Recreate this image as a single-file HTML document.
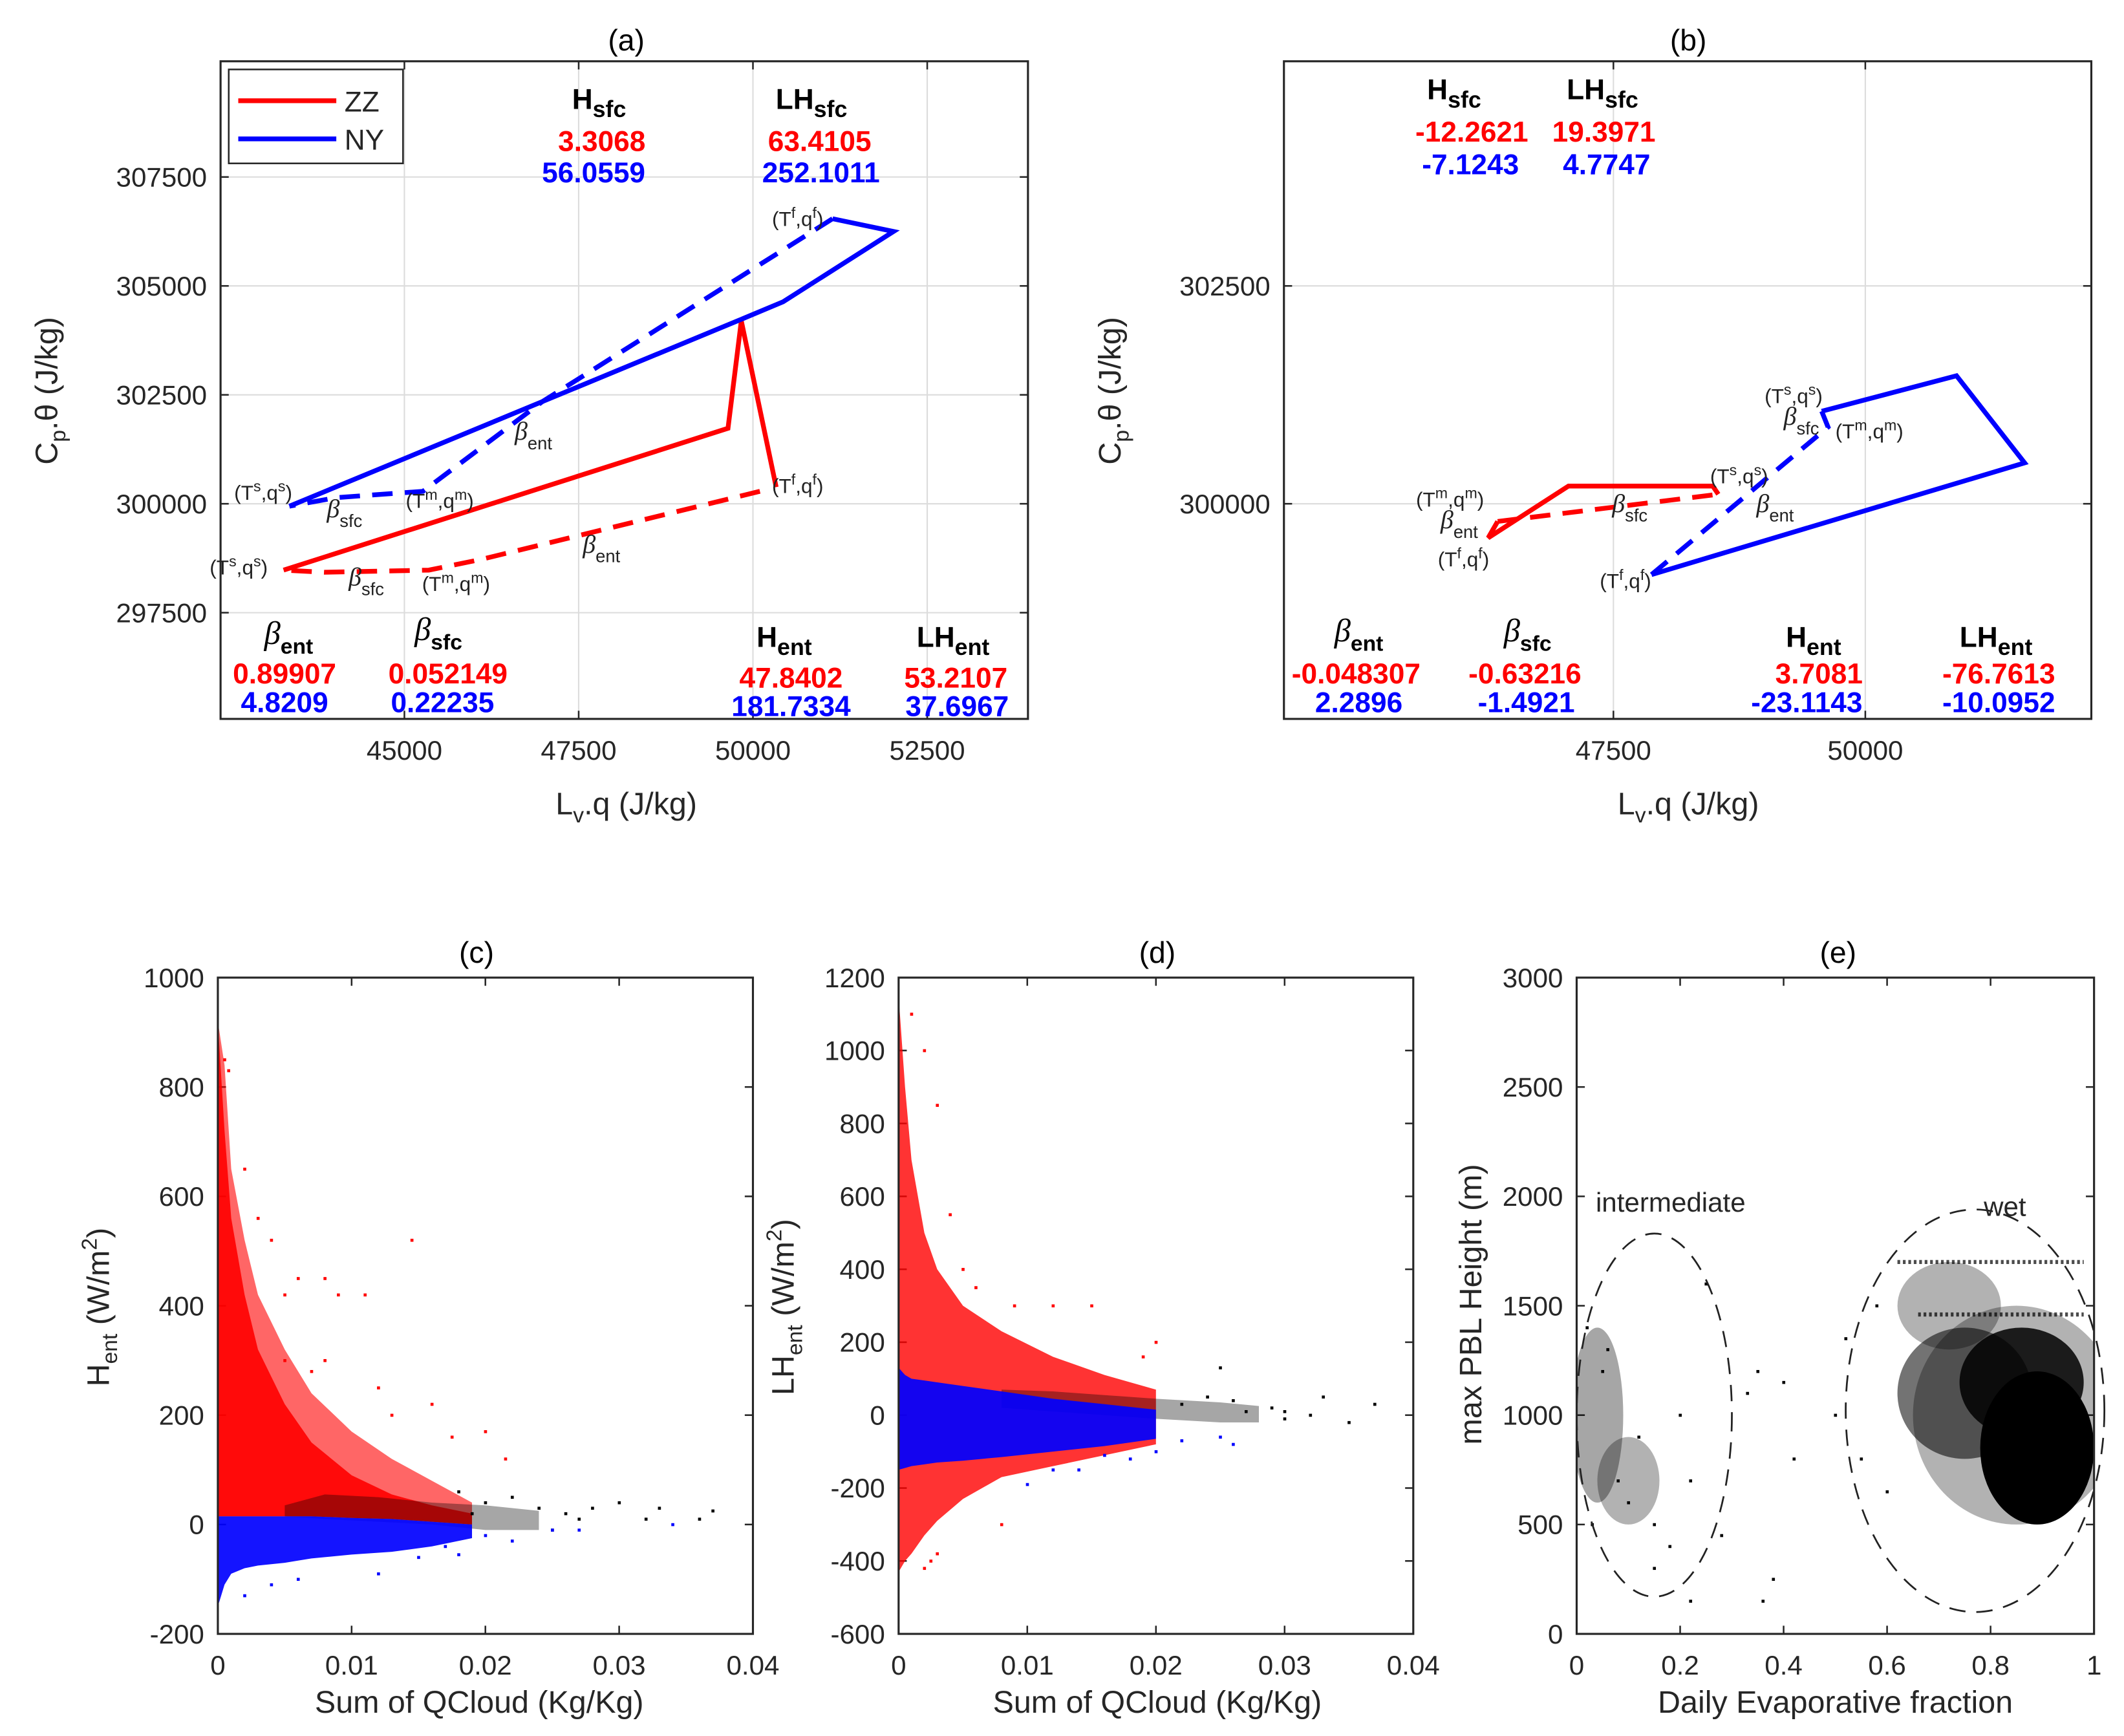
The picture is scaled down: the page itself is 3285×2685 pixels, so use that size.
<!DOCTYPE html>
<html><head><meta charset="utf-8"><style>
html,body{margin:0;padding:0;background:#fff;}
svg{display:block;}
text{font-family:"Liberation Sans",sans-serif;}
.tk{font-size:20px;fill:#262626;}
.lab{font-size:23px;fill:#262626;}
.ttl{font-size:22px;fill:#000;}
.ann{font-size:21px;font-weight:bold;}
.pl{font-size:15px;fill:#222;}
</style></head><body>
<svg id="fig" xmlns="http://www.w3.org/2000/svg" width="3285" height="2685" viewBox="0 0 1560 1275" preserveAspectRatio="none">
<rect x="0" y="0" width="1560" height="1275" fill="#fff"/>
<g id="root"></g>
</svg>
<script>
// ---------- Panel (a) data ----------
const aZZsolidX = [43267, 49642, 49833, 50333];
const aZZsolidY = [298477, 301732, 304197, 300383];
const aZZdashX = [50100, 46100, 45350, 43850, 43267];
const aZZdashY = [300286, 298722, 298477, 298428, 298477];
const aNYsolidX = [43350, 49850, 50433, 52017, 51142];
const aNYsolidY = [299944, 304245, 304636, 306249, 306542];
const aNYdashX = [51142, 46975, 45267, 44017, 43350];
const aNYdashY = [306542, 302340, 300286, 300140, 299944];
const aXTicks = [45000, 47500, 50000, 52500];
const aYTicks = [297500, 300000, 302500, 305000, 307500];
// ---------- Panel (b) data ----------
const bZZsolidX = [48541, 48486, 47054, 46257, 46351];
const bZZsolidY = [300109, 300203, 300203, 299609, 299797];
const bZZdashX = [46351, 48541];
const bZZdashY = [299797, 300109];
const bNYsolidX = [49567, 50905, 51581, 47878];
const bNYsolidY = [301062, 301469, 300469, 299187];
const bNYdashX = [47878, 49630, 49567];
const bNYdashY = [299187, 300880, 301062];
const bXTicks = [47500, 50000];
const bYTicks = [300000, 302500];
// ---------- Panel (c) data ----------
const cX = [0, 0.0005, 0.001, 0.002, 0.003, 0.005, 0.007, 0.01, 0.013, 0.016, 0.019];
const cRedCore = [920, 720, 560, 420, 320, 220, 150, 90, 55, 35, 20];
const cRedHalo = [920, 840, 650, 520, 420, 320, 240, 170, 120, 80, 40];
const cBlueTop = [15, 15, 15, 15, 15, 15, 15, 12, 10, 5, 0];
const cBlueBot = [-150, -110, -90, -80, -75, -70, -62, -55, -50, -40, -25];
const cBlackX = [0.005, 0.008, 0.012, 0.016, 0.02, 0.024];
const cBlackTop = [35, 55, 50, 40, 35, 25];
const cBlackBot = [15, 10, 5, 0, -10, -10];
const cRedPtsX = [0.0005, 0.0008, 0.002, 0.003, 0.004, 0.005, 0.006, 0.008, 0.009, 0.011, 0.0145, 0.016, 0.008, 0.012, 0.013, 0.0175, 0.02, 0.0215, 0.005, 0.007];
const cRedPtsY = [850, 830, 650, 560, 520, 420, 450, 450, 420, 420, 520, 220, 300, 250, 200, 160, 170, 120, 300, 280];
const cBlkPtsX = [0.02, 0.022, 0.024, 0.026, 0.028, 0.03, 0.032, 0.033, 0.036, 0.037, 0.025, 0.018, 0.019, 0.027];
const cBlkPtsY = [40, 50, 30, 20, 30, 40, 10, 30, 10, 25, -10, 60, 20, 10];
const cBluPtsX = [0.015, 0.017, 0.02, 0.022, 0.025, 0.027, 0.034, 0.004, 0.006, 0.002, 0.018, 0.012];
const cBluPtsY = [-60, -40, -20, -30, -10, -10, 0, -110, -100, -130, -55, -90];
const cXTicks = [0, 0.01, 0.02, 0.03, 0.04];
const cYTicks = [-200, 0, 200, 400, 600, 800, 1000];
// ---------- Panel (d) data ----------
const dX = [0, 0.0005, 0.001, 0.002, 0.003, 0.005, 0.008, 0.012, 0.016, 0.02];
const dRedTop = [1150, 900, 700, 500, 400, 300, 230, 160, 110, 70];
const dRedBot = [-430, -400, -380, -330, -290, -230, -170, -140, -110, -80];
const dBlueTop = [130, 110, 100, 95, 90, 80, 65, 45, 30, 15];
const dBlueBot = [-150, -145, -140, -135, -130, -125, -115, -100, -85, -65];
const dBlackX = [0.008, 0.012, 0.016, 0.02, 0.025, 0.028];
const dBlackTop = [70, 65, 55, 45, 35, 25];
const dBlackBot = [20, 10, 0, -10, -20, -20];
const dRedPtsX = [0.001, 0.002, 0.003, 0.004, 0.006, 0.009, 0.012, 0.015, 0.019, 0.02, 0.005, 0.003, 0.002, 0.0025, 0.008];
const dRedPtsY = [1100, 1000, 850, 550, 350, 300, 300, 300, 160, 200, 400, -380, -420, -400, -300];
const dBlkPtsX = [0.022, 0.024, 0.026, 0.027, 0.029, 0.03, 0.032, 0.033, 0.035, 0.037, 0.025, 0.03];
const dBlkPtsY = [30, 50, 40, 10, 20, -10, 0, 50, -20, 30, 130, 10];
const dBluPtsX = [0.016, 0.018, 0.02, 0.022, 0.025, 0.026, 0.012, 0.01, 0.014];
const dBluPtsY = [-110, -120, -100, -70, -60, -80, -150, -190, -150];
const dXTicks = [0, 0.01, 0.02, 0.03, 0.04];
const dYTicks = [-600, -400, -200, 0, 200, 400, 600, 800, 1000, 1200];
// ---------- Panel (e) data ----------
const eBlobX = [0.85, 0.75, 0.72, 0.86, 0.89, 0.04, 0.1];
const eBlobY = [1000, 1100, 1500, 1150, 850, 1000, 700];
const eBlobRx = [0.2, 0.13, 0.1, 0.12, 0.11, 0.05, 0.06];
const eBlobRy = [500, 300, 200, 250, 350, 400, 200];
const eBlobOp = [0.3, 0.55, 0.3, 0.85, 1, 0.35, 0.3];
const eBandX0 = [0.62, 0.66];
const eBandX1 = [0.98, 0.98];
const eBandY = [1700, 1460];
const ePtsX = [0.02, 0.05, 0.08, 0.1, 0.12, 0.15, 0.18, 0.2, 0.22, 0.25, 0.28, 0.33, 0.35, 0.4, 0.42, 0.38, 0.36, 0.22, 0.15, 0.03, 0.06, 0.5, 0.52, 0.55, 0.58, 0.6];
const ePtsY = [1400, 1200, 700, 600, 900, 500, 400, 1000, 700, 1600, 450, 1100, 1200, 1150, 800, 250, 150, 150, 300, 500, 1300, 1000, 1350, 800, 1500, 650];
const eEllX = [0.15, 0.77];
const eEllY = [1000, 1020];
const eEllRx = [0.15, 0.25];
const eEllRy = [830, 920];
const eXTicks = [0, 0.2, 0.4, 0.6, 0.8, 1];
const eYTicks = [0, 500, 1000, 1500, 2000, 2500, 3000];

const NS = "http://www.w3.org/2000/svg";
const root = document.getElementById('root');
function mk(tag, attrs, parent) {
  const e = document.createElementNS(NS, tag);
  for (const k in attrs) e.setAttribute(k, attrs[k]);
  (parent || root).appendChild(e);
  return e;
}
function lin(d0, d1, p0, p1) { return v => p0 + (v - d0) / (d1 - d0) * (p1 - p0); }

function makeAxes(name, px0, px1, py0, py1, xmin, xmax, ymax, ymin, xt, yt, xfmt, yfmt, grid) {
  const g = mk('g', {});
  
  
  const sx = lin(xmin, xmax, px0, px1), sy = lin(ymax, ymin, py0, py1);
  mk('rect', {x: px0, y: py0, width: px1 - px0, height: py1 - py0, fill: '#fff'}, g);
  const gg = mk('g', {}, g);
  
  
  xt.forEach(v => {
    const x = sx(v);
    if (grid) mk('line', {x1: x, x2: x, y1: py0, y2: py1, stroke: '#dcdcdc', 'stroke-width': 1}, gg);
    mk('line', {x1: x, x2: x, y1: py1, y2: py1 - 6, stroke: '#262626', 'stroke-width': 1.2}, gg);
    mk('line', {x1: x, x2: x, y1: py0, y2: py0 + 6, stroke: '#262626', 'stroke-width': 1.2}, gg);
    const t = mk('text', {x: x, y: py1 + 30, 'text-anchor': 'middle', class: 'tk'}, gg);
    
    
    t.textContent = xfmt(v);
  });
  yt.forEach(v => {
    const y = sy(v);
    if (grid) mk('line', {x1: px0, x2: px1, y1: y, y2: y, stroke: '#dcdcdc', 'stroke-width': 1}, gg);
    mk('line', {x1: px0, x2: px0 + 6, y1: y, y2: y, stroke: '#262626', 'stroke-width': 1.2}, gg);
    mk('line', {x1: px1, x2: px1 - 6, y1: y, y2: y, stroke: '#262626', 'stroke-width': 1.2}, gg);
    const t = mk('text', {x: px0 - 10, y: y + 7, 'text-anchor': 'end', class: 'tk'}, gg);
    
    
    t.textContent = yfmt(v);
  });
  const plot = mk('g', {}, g);
  return {g, plot, sx, sy, box: [px0, px1, py0, py1]};
}
function frame(ax) {
  const [a, b, c, d] = ax.box;
  const r = mk('rect', {x: a, y: c, width: b - a, height: d - c, fill: 'none', stroke: '#262626', 'stroke-width': 1.5}, ax.g);
  
  
}
function polyline(ax, xs, ys, color, dash, name) {
  const p = mk('polyline', {points: xs.map((x, i) => ax.sx(x) + ',' + ax.sy(ys[i])).join(' '), fill: 'none', stroke: color, 'stroke-width': 3.5, 'stroke-linejoin': 'miter'}, ax.plot);
  if (dash) p.setAttribute('stroke-dasharray', '15 9');
  
  
}
function band(ax, xs, top, bot, color, op, name) {
  const pts = xs.map((x, i) => ax.sx(x) + ',' + ax.sy(top[i])).concat(xs.slice().reverse().map((x, i) => ax.sx(x) + ',' + ax.sy(bot[xs.length - 1 - i])));
  const p = mk('polygon', {points: pts.join(' '), fill: color, 'fill-opacity': op}, ax.plot);
  
  
}
function dots(ax, xs, ys, color, name) {
  xs.forEach((x, i) => {
    const r = mk('rect', {x: ax.sx(x) - 1, y: ax.sy(ys[i]) - 1, width: 2.2, height: 2.2, fill: color}, ax.plot);
    
    
  });
}
function txt(x, y, s, cls, extra, name) {
  const t = mk('text', Object.assign({x: x, y: y, class: cls}, extra || {}));
  t.innerHTML = s;
  
  
  return t;
}
const num = v => String(v);
const sub = (a, b, sz) => a + '<tspan dy="6" font-size="' + (sz || 15) + '">' + b + '</tspan>';
const beta = (b) => '<tspan font-family="Liberation Serif" font-style="italic" font-weight="normal" font-size="24">β</tspan><tspan dy="7" font-size="16">' + b + '</tspan>';

// ---------- Panel (a) ----------
const A = makeAxes('panel-a', 162, 755, 45, 528, 42363, 53945, 310156, 295062, aXTicks, aYTicks, num, num, true);
polyline(A, aZZdashX, aZZdashY, '#f00', true, 'zz-dashed-line');
polyline(A, aNYdashX, aNYdashY, '#00f', true, 'ny-dashed-line');
polyline(A, aZZsolidX, aZZsolidY, '#f00', false, 'zz-solid-line');
polyline(A, aNYsolidX, aNYsolidY, '#00f', false, 'ny-solid-line');
frame(A);
const lg = mk('g', {});


mk('rect', {x: 168, y: 51, width: 128, height: 69, fill: '#fff', stroke: '#262626', 'stroke-width': 1.2}, lg);
mk('line', {x1: 175, x2: 247, y1: 74, y2: 74, stroke: '#f00', 'stroke-width': 3.5}, lg);
mk('line', {x1: 175, x2: 247, y1: 102, y2: 102, stroke: '#00f', 'stroke-width': 3.5}, lg);
txt(253, 82, 'ZZ', 'lab', {style: 'font-size:21px'}, 'legend-entry-zz');
txt(253, 110, 'NY', 'lab', {style: 'font-size:21px'}, 'legend-entry-ny');
function ann(x, y, s, col, name) { return txt(x, y, s, 'ann', {'text-anchor': 'middle', fill: col}, name); }
ann(440, 80, sub('H', 'sfc', 17), '#000', 'hsfc-label-a');
ann(442, 111, '3.3068', '#f00', 'hsfc-zz-a');
ann(436, 134, '56.0559', '#00f', 'hsfc-ny-a');
ann(596, 80, sub('LH', 'sfc', 17), '#000', 'lhsfc-label-a');
ann(602, 111, '63.4105', '#f00', 'lhsfc-zz-a');
ann(603, 134, '252.1011', '#00f', 'lhsfc-ny-a');
ann(212, 473, beta('ent'), '#000', 'beta-ent-label-a');
ann(209, 502, '0.89907', '#f00', 'beta-ent-zz-a');
ann(209, 523, '4.8209', '#00f', 'beta-ent-ny-a');
ann(322, 470, beta('sfc'), '#000', 'beta-sfc-label-a');
ann(329, 502, '0.052149', '#f00', 'beta-sfc-zz-a');
ann(325, 523, '0.22235', '#00f', 'beta-sfc-ny-a');
ann(576, 475, sub('H', 'ent', 17), '#000', 'hent-label-a');
ann(581, 505, '47.8402', '#f00', 'hent-zz-a');
ann(581, 526, '181.7334', '#00f', 'hent-ny-a');
ann(700, 475, sub('LH', 'ent', 17), '#000', 'lhent-label-a');
ann(702, 505, '53.2107', '#f00', 'lhent-zz-a');
ann(703, 526, '37.6967', '#00f', 'lhent-ny-a');
function pl(x, y, a, b, name) {
  return txt(x, y, '(T<tspan dy="-6" font-size="11">' + a + '</tspan><tspan dy="6">,q</tspan><tspan dy="-6" font-size="11">' + a + '</tspan><tspan dy="6">)</tspan>', 'pl', {}, name);
}
pl(172, 367, 's', '', 'ts-label-ny-a');
pl(298, 373, 'm', '', 'tm-label-ny-a');
pl(567, 166, 'f', '', 'tf-label-ny-a');
pl(567, 362, 'f', '', 'tf-label-zz-a');
pl(154, 422, 's', '', 'ts-label-zz-a');
pl(310, 434, 'm', '', 'tm-label-zz-a');
function bl(x, y, b, name) { return txt(x, y, beta(b).replace('font-size="24"', 'font-size="19"').replace('font-size="16"', 'font-size="13"'), 'pl', {}, name); }
bl(378, 323, 'ent', 'beta-ent-ny-a');
bl(240, 380, 'sfc', 'beta-sfc-ny-a');
bl(428, 406, 'ent', 'beta-ent-zz-a');
bl(256, 430, 'sfc', 'beta-sfc-zz-a');

// ---------- Panel (b) ----------
const B = makeAxes('panel-b', 943, 1536, 45, 528, 44230, 52243, 305078, 297531, bXTicks, bYTicks, num, num, true);
polyline(B, bZZdashX, bZZdashY, '#f00', true, 'zz-dashed-line-b');
polyline(B, bNYdashX, bNYdashY, '#00f', true, 'ny-dashed-line-b');
polyline(B, bZZsolidX, bZZsolidY, '#f00', false, 'zz-solid-line-b');
polyline(B, bNYsolidX, bNYsolidY, '#00f', false, 'ny-solid-line-b');
frame(B);
ann(1068, 73, sub('H', 'sfc', 17), '#000', 'hsfc-label-b');
ann(1081, 104, '-12.2621', '#f00', 'hsfc-zz-b');
ann(1080, 128, '-7.1243', '#00f', 'hsfc-ny-b');
ann(1177, 73, sub('LH', 'sfc', 17), '#000', 'lhsfc-label-b');
ann(1178, 104, '19.3971', '#f00', 'lhsfc-zz-b');
ann(1180, 128, '4.7747', '#00f', 'lhsfc-ny-b');
ann(998, 471, beta('ent'), '#000', 'beta-ent-label-b');
ann(996, 502, '-0.048307', '#f00', 'beta-ent-zz-b');
ann(998, 523, '2.2896', '#00f', 'beta-ent-ny-b');
ann(1122, 471, beta('sfc'), '#000', 'beta-sfc-label-b');
ann(1120, 502, '-0.63216', '#f00', 'beta-sfc-zz-b');
ann(1121, 523, '-1.4921', '#00f', 'beta-sfc-ny-b');
ann(1332, 475, sub('H', 'ent', 17), '#000', 'hent-label-b');
ann(1336, 502, '3.7081', '#f00', 'hent-zz-b');
ann(1327, 523, '-23.1143', '#00f', 'hent-ny-b');
ann(1466, 475, sub('LH', 'ent', 17), '#000', 'lhent-label-b');
ann(1468, 502, '-76.7613', '#f00', 'lhent-zz-b');
ann(1468, 523, '-10.0952', '#00f', 'lhent-ny-b');
pl(1296, 296, 's', '', 'ts-label-ny-b');
pl(1348, 322, 'm', '', 'tm-label-ny-b');
pl(1256, 355, 's', '', 'ts-label-zz-b');
pl(1040, 372, 'm', '', 'tm-label-zz-b');
pl(1056, 416, 'f', '', 'tf-label-zz-b');
pl(1175, 432, 'f', '', 'tf-label-ny-b');
bl(1310, 312, 'sfc', 'beta-sfc-ny-b');
bl(1290, 376, 'ent', 'beta-ent-ny-b');
bl(1184, 376, 'sfc', 'beta-sfc-zz-b');
bl(1058, 388, 'ent', 'beta-ent-zz-b');

// ---------- Panel (c) ----------
const C = makeAxes('panel-c', 160, 553, 718, 1200, 0, 0.04, 1000, -200, cXTicks, cYTicks, num, num, false);
band(C, cX, cRedHalo, cBlueTop, '#f00', 0.6, 'zz-scatter-halo');
band(C, cX, cRedCore, cBlueTop, '#f00', 0.9, 'zz-scatter-core');
band(C, cBlackX, cBlackTop, cBlackBot, '#000', 0.35, 'mixed-scatter-band');
band(C, cX, cBlueTop, cBlueBot, '#00f', 0.92, 'ny-scatter-core');
dots(C, cRedPtsX, cRedPtsY, '#f00', 'zz-point');
dots(C, cBlkPtsX, cBlkPtsY, '#000', 'black-point');
dots(C, cBluPtsX, cBluPtsY, '#00f', 'ny-point');
frame(C);

// ---------- Panel (d) ----------
const D = makeAxes('panel-d', 660, 1038, 718, 1200, 0, 0.04, 1200, -600, dXTicks, dYTicks, num, num, false);
band(D, dX, dRedTop, dRedBot, '#f00', 0.8, 'zz-scatter-d');
band(D, dBlackX, dBlackTop, dBlackBot, '#000', 0.35, 'mixed-scatter-band-d');
band(D, dX, dBlueTop, dBlueBot, '#00f', 0.92, 'ny-scatter-d');
dots(D, dRedPtsX, dRedPtsY, '#f00', 'zz-point');
dots(D, dBlkPtsX, dBlkPtsY, '#000', 'black-point');
dots(D, dBluPtsX, dBluPtsY, '#00f', 'ny-point');
frame(D);

// ---------- Panel (e) ----------
const E = makeAxes('panel-e', 1158, 1538, 718, 1200, 0, 1, 3000, 0, eXTicks, eYTicks, num, num, false);
const clipE = mk('clipPath', {id: 'clipE'});
mk('rect', {x: 1158, y: 718, width: 380, height: 482}, clipE);
E.plot.setAttribute('clip-path', 'url(#clipE)');
eBlobX.forEach((x, i) => {
  const e = mk('ellipse', {cx: E.sx(x), cy: E.sy(eBlobY[i]), rx: E.sx(x + eBlobRx[i]) - E.sx(x), ry: E.sy(eBlobY[i] - eBlobRy[i]) - E.sy(eBlobY[i]), fill: '#000', 'fill-opacity': eBlobOp[i]}, E.plot);
  
  
});
eBandX0.forEach((x, i) => {
  const l = mk('line', {x1: E.sx(x), x2: E.sx(eBandX1[i]), y1: E.sy(eBandY[i]), y2: E.sy(eBandY[i]), stroke: '#000', 'stroke-width': 3, 'stroke-dasharray': '2 2', 'stroke-opacity': 0.7}, E.plot);
  
  
});
dots(E, ePtsX, ePtsY, '#000', 'pbl-point');
eEllX.forEach((x, i) => {
  const e = mk('ellipse', {cx: E.sx(x), cy: E.sy(eEllY[i]), rx: E.sx(x + eEllRx[i]) - E.sx(x), ry: E.sy(eEllY[i] - eEllRy[i]) - E.sy(eEllY[i]), fill: 'none', stroke: '#222', 'stroke-width': 1.3, 'stroke-dasharray': '12 8'}, E.g);
  
  
});
frame(E);
txt(1172, 890, 'intermediate', 'lab', {style: 'font-size:20px'}, 'intermediate-label');
txt(1457, 893, 'wet', 'lab', {style: 'font-size:20px'}, 'wet-label');

// ---------- Titles and axis labels ----------
txt(460, 37, '(a)', 'ttl', {'text-anchor': 'middle'}, 'title-a');
txt(1240, 37, '(b)', 'ttl', {'text-anchor': 'middle'}, 'title-b');
txt(350, 707, '(c)', 'ttl', {'text-anchor': 'middle'}, 'title-c');
txt(850, 707, '(d)', 'ttl', {'text-anchor': 'middle'}, 'title-d');
txt(1350, 707, '(e)', 'ttl', {'text-anchor': 'middle'}, 'title-e');
const xl = 'L<tspan dy="6" font-size="16">v</tspan><tspan dy="-6">.q (J/kg)</tspan>';
txt(460, 598, xl, 'lab', {'text-anchor': 'middle'}, 'x-axis-title-a');
txt(1240, 598, xl, 'lab', {'text-anchor': 'middle'}, 'x-axis-title-b');
const yl = 'C<tspan dy="6" font-size="16">p</tspan><tspan dy="-6">.θ (J/kg)</tspan>';
txt(0, 0, yl, 'lab', {'text-anchor': 'middle', transform: 'translate(42,287) rotate(-90)'}, 'y-axis-title-a');
txt(0, 0, yl, 'lab', {'text-anchor': 'middle', transform: 'translate(823,287) rotate(-90)'}, 'y-axis-title-b');
txt(0, 0, 'H<tspan dy="6" font-size="16">ent</tspan><tspan dy="-6"> (W/m</tspan><tspan dy="-9" font-size="16">2</tspan><tspan dy="9">)</tspan>', 'lab', {'text-anchor': 'middle', transform: 'translate(80,960) rotate(-90)'}, 'y-axis-title-c');
txt(0, 0, 'LH<tspan dy="6" font-size="16">ent</tspan><tspan dy="-6"> (W/m</tspan><tspan dy="-9" font-size="16">2</tspan><tspan dy="9">)</tspan>', 'lab', {'text-anchor': 'middle', transform: 'translate(583,960) rotate(-90)'}, 'y-axis-title-d');
txt(0, 0, 'max PBL Height (m)', 'lab', {'text-anchor': 'middle', transform: 'translate(1088,958) rotate(-90)'}, 'y-axis-title-e');
txt(352, 1258, 'Sum of QCloud (Kg/Kg)', 'lab', {'text-anchor': 'middle'}, 'x-axis-title-c');
txt(850, 1258, 'Sum of QCloud (Kg/Kg)', 'lab', {'text-anchor': 'middle'}, 'x-axis-title-d');
txt(1348, 1258, 'Daily Evaporative fraction', 'lab', {'text-anchor': 'middle'}, 'x-axis-title-e');
</script>
</body></html>
